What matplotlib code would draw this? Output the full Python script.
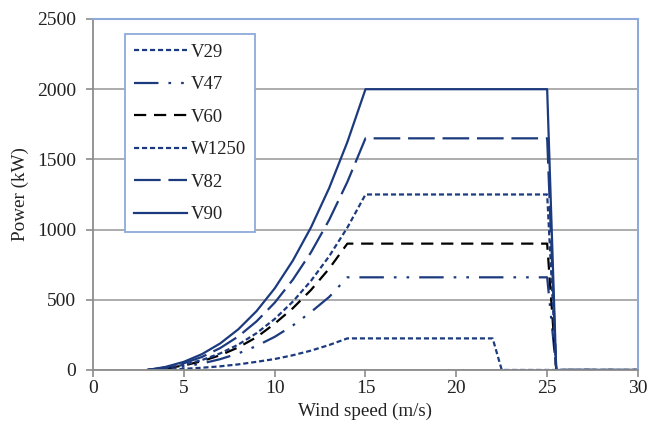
import matplotlib
matplotlib.use('Agg')
import matplotlib.pyplot as plt

# wind speed points (m/s) for the ramp-up part of each curve
ws_15 = [3, 4, 5, 6, 7, 8, 9, 10, 11, 12, 13, 14, 15]
ws_14 = [3, 4, 5, 6, 7, 8, 9, 10, 11, 12, 13, 14]

# power output (kW)
p_v90 = [0, 22, 58, 113, 189, 290, 419, 581, 779, 1016, 1296, 1623, 2000]
p_v82 = [0, 18, 48, 93, 156, 239, 346, 479, 643, 838, 1069, 1339, 1650]
p_w1250 = [0, 14, 37, 71, 118, 181, 262, 363, 487, 635, 810, 1014, 1250]
p_v60 = [0, 12, 32, 63, 105, 161, 233, 330, 440, 570, 722, 900]
p_v47 = [0, 9, 24, 46, 77, 118, 171, 236, 317, 413, 520, 660]
p_v29 = [0, 3, 8, 16, 26, 40, 58, 78, 105, 138, 178, 225]

# rated plateau end / cut-out, then zero until 30 m/s
cutout = [25, 25.5, 30]
cutout_v29 = [22, 22.5, 30]

navy = '#1c3a7e'
blue_frame = '#8eaadb'
grid_gray = '#a6a6a6'

plt.rcParams['font.family'] = ['Liberation Serif', 'DejaVu Serif']

fig = plt.figure(figsize=(6.61, 4.26), dpi=100)
ax = fig.add_axes([0.1407, 0.1315, 0.8245, 0.8239])


def curve(ws, p, cut):
    x = list(ws) + cut
    y = list(p) + [p[-1], 0, 0]
    return x, y


x, y = curve(ws_14, p_v29, cutout_v29)
ax.plot(x, y, color=navy, lw=1.6, dashes=(2.3, 1.3), label='V29')
x, y = curve(ws_14, p_v47, cutout)
ax.plot(x, y, color=navy, lw=1.6, dashes=(11, 4.5, 1.2, 4.5, 1.2, 4.5), label='V47')
x, y = curve(ws_14, p_v60, cutout)
ax.plot(x, y, color='black', lw=1.6, dashes=(5.5, 3.5), label='V60')
x, y = curve(ws_15, p_w1250, cutout)
ax.plot(x, y, color=navy, lw=1.6, dashes=(2.3, 1.3), label='W1250')
x, y = curve(ws_15, p_v82, cutout)
ax.plot(x, y, color=navy, lw=1.6, dashes=(12, 3.5), label='V82')
x, y = curve(ws_15, p_v90, cutout)
ax.plot(x, y, color=navy, lw=1.6, label='V90')

ax.set_xlim(0, 30)
ax.set_ylim(0, 2500)
ax.set_xticks(range(0, 31, 5))
ax.set_yticks(range(0, 2501, 500))
ax.yaxis.grid(True, color=grid_gray, lw=1.3)
ax.set_axisbelow(True)

for s in ['top', 'right']:
    ax.spines[s].set_color(blue_frame)
    ax.spines[s].set_linewidth(1.5)
for s in ['left', 'bottom']:
    ax.spines[s].set_color('#8c8c8c')
    ax.spines[s].set_linewidth(1.3)
ax.tick_params(axis='both', colors='#8c8c8c', length=5, width=1.2,
               labelsize=14, labelcolor='#222222')
ax.tick_params(axis='y', pad=7)
ax.tick_params(axis='x', pad=2)

ax.set_xlabel('Wind speed (m/s)', fontsize=13.7, color='#222222', labelpad=4)
ax.set_ylabel('Power (kW)', fontsize=13.8, color='#222222', labelpad=6)

leg = ax.legend(loc='upper left', bbox_to_anchor=(0.0587, 0.957), fontsize=13.5,
                handlelength=2.8, handletextpad=0.2, labelspacing=0.82,
                borderpad=0.5, borderaxespad=0, fancybox=False, framealpha=1)
leg.get_frame().set_edgecolor(blue_frame)
leg.get_frame().set_linewidth(1.3)
for t in leg.get_texts():
    t.set_color('#222222')

plt.savefig('out.png', dpi=100)
plt.close(fig)
